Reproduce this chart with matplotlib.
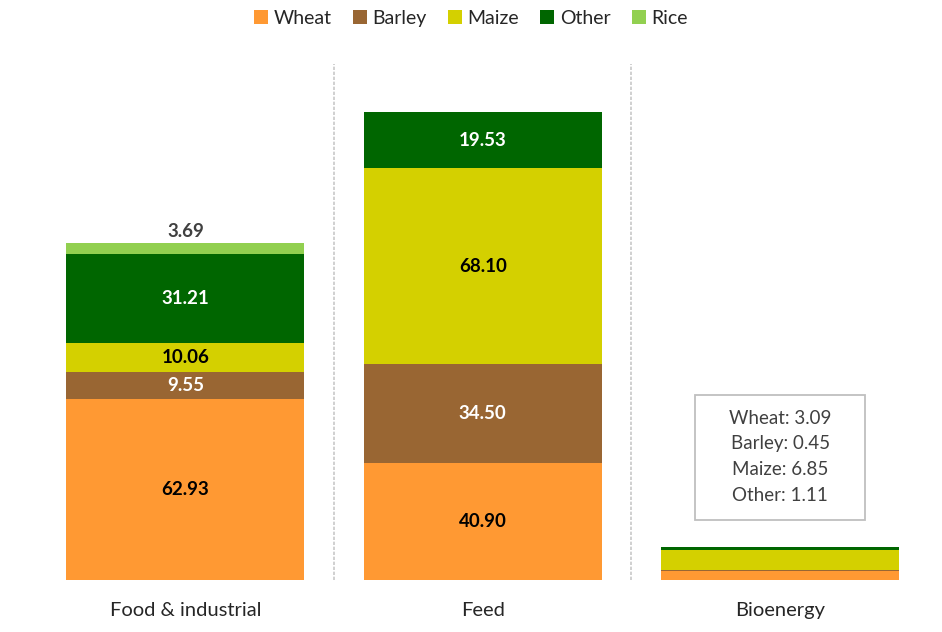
import numpy as np
import matplotlib.pyplot as plt
from matplotlib.patches import Rectangle

# Данни
categories = ['Food & industrial', 'Feed', 'Bioenergy']
crops = ['Wheat', 'Barley', 'Maize', 'Other', 'Rice']
wheat = [62.93, 40.90, 3.09]
barley = [9.55, 34.50, 0.45]
maize = [10.06, 68.10, 6.85]
other = [31.21, 19.53, 1.11]
rice = [3.69, 0.0, 0.0]

colors = ['#FF9933', '#996633', '#D4D000', '#006600', '#92D050']
label_colors = ['black', 'white', 'black', 'white', '#404040']

plt.rcParams['font.family'] = ['Lato', 'DejaVu Sans']

fig = plt.figure(figsize=(9.42, 6.32), dpi=100)
ax = fig.add_axes([0.039, 0.0823, 0.947, 0.817])

x = np.arange(len(categories))
series = [wheat, barley, maize, other, rice]
bottom = np.zeros(len(categories))
for name, vals, col, lc in zip(crops, series, colors, label_colors):
    vals = np.array(vals)
    ax.bar(x, vals, 0.8, bottom=bottom, color=col, label=name, linewidth=0)
    for i in range(2):
        if vals[i] <= 0:
            continue
        if name == 'Rice':
            ypos = bottom[i] + vals[i] + 1.0
            va = 'bottom'
        else:
            ypos = bottom[i] + vals[i] / 2
            va = 'center'
        ax.text(x[i], ypos, '{:.2f}'.format(vals[i]), ha='center', va=va,
                color=lc, fontsize=13.5, fontweight='bold')
    bottom += vals

# Кутия за Bioenergy
box_text = '\n'.join('{}: {:.2f}'.format(n, v[2]) for n, v in zip(crops[:4], series[:4]))
ax.add_patch(Rectangle((x[2] - 0.286, 20.9), 0.572, 43.6, fc='white', ec='#BFBFBF', lw=1.3))
ax.text(x[2], 43.0, box_text, ha='center', va='center', fontsize=13.5,
        color='#404040', linespacing=1.62)

# Разделители
for sx in [0.5, 1.5]:
    ax.axvline(sx, color='#C8C8C8', lw=1.2, ls=(0, (2, 1)))

ax.set_xlim(-0.5, 2.5)
ax.set_ylim(0, 180)
ax.set_yticks([])
ax.set_xticks(x)
ax.set_xticklabels(categories, fontsize=14.5, color='#262626')
ax.tick_params(axis='x', length=0, pad=16)
for s in ax.spines.values():
    s.set_visible(False)

fig.legend(loc='upper center', bbox_to_anchor=(0.5, 1.012), ncol=5, frameon=False,
           fontsize=14, handlelength=0.7, handleheight=0.7, handletextpad=0.3,
           columnspacing=1.1, labelcolor='#262626')

fig.savefig('out.png', dpi=100)
